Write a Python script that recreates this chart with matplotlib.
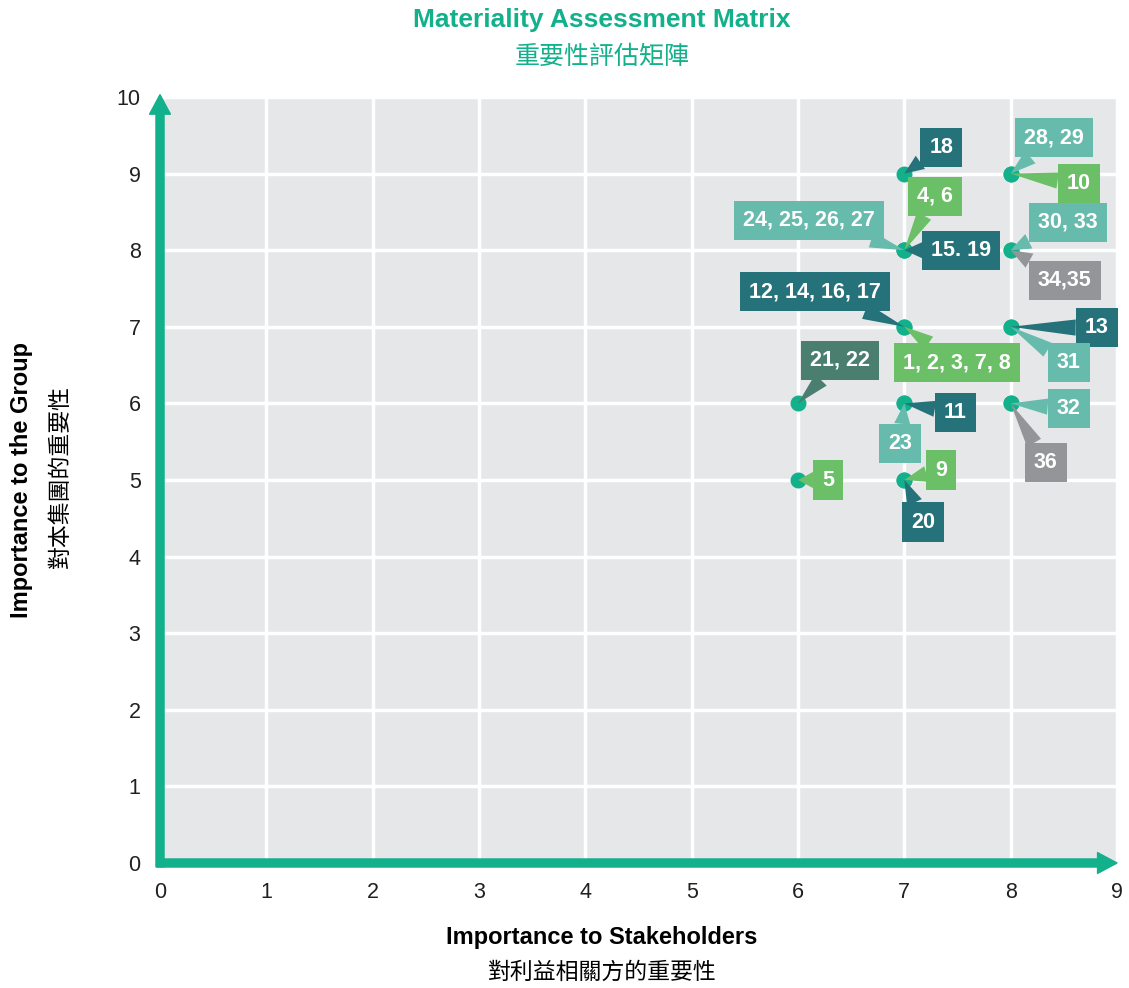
import matplotlib.pyplot as plt

# points: (stakeholders, group) and the issue numbers shown in each callout
xs = [7, 8, 8, 7, 7, 7, 8, 8, 7, 7, 8, 8, 6, 7, 7, 8, 8, 6, 7, 7]
ys = [9, 9, 9, 8, 8, 8, 8, 8, 7, 7, 7, 7, 6, 6, 6, 6, 6, 5, 5, 5]
labels = ["18", "28, 29", "10", "4, 6", "24, 25, 26, 27", "15. 19", "30, 33", "34,35",
          "12, 14, 16, 17", "1, 2, 3, 7, 8", "13", "31", "21, 22", "11", "23", "32", "36",
          "5", "9", "20"]
groups = ["dark", "light", "green", "green", "light", "dark", "light", "gray",
          "dark", "green", "dark", "light", "olive", "dark", "light", "light", "gray",
          "green", "green", "dark"]

# callout offsets in pixels from the point (layout only)
offsets = [(37, 26), (43, 36), (68, -10), (31, 54), (-95, 30), (57, 0), (57, 28), (54, -30),
           (-89, 35), (53, -36), (86, -1), (58, -36), (42, 43), (51, -9), (-4, -40),
           (58, -5), (35, -59), (30, 0), (37, 10), (19, -42)]

colors = {"dark": "#25727b", "light": "#67bbad", "green": "#6bbf66",
          "gray": "#939598", "olive": "#4a7e6f"}
teal = "#12b08b"
latin = ["Liberation Sans", "Noto Sans CJK TC"]
cjk = ["Noto Sans CJK TC", "DejaVu Sans"]

fig = plt.figure(figsize=(11.29, 9.88), dpi=100)
ax = fig.add_axes([160 / 1129, 1 - 863 / 988, 957 / 1129, 766 / 988])
ax.set_facecolor("#e6e7e9")
ax.set_xlim(0, 9)
ax.set_ylim(0, 10)
ax.set_xticks(range(0, 10))
ax.set_yticks(range(0, 11))
ax.grid(color="white", lw=2.5)
ax.set_axisbelow(True)
for s in ax.spines.values():
    s.set_visible(False)
ax.tick_params(length=0, labelsize=15.5, labelcolor="#231f20", pad=14)
for t in ax.get_xticklabels() + ax.get_yticklabels():
    t.set_family(latin)

# axis arrows
arrow = dict(width=5.8, headwidth=15, headlength=14, color=teal, shrink=0)
ax.annotate("", xy=(0, 10.03), xytext=(0, -0.05), arrowprops=arrow, annotation_clip=False)
ax.annotate("", xy=(9, 0), xytext=(-0.03, 0), arrowprops=arrow, annotation_clip=False)

ax.scatter(xs, ys, s=110, color=teal, zorder=3, clip_on=False)

for x, y, lab, g, (dx, dy) in zip(xs, ys, labels, groups, offsets):
    c = colors[g]
    ax.annotate(lab, xy=(x, y), xytext=(dx, dy), textcoords="offset pixels",
                ha="center", va="center", color="white", fontsize=15.5, fontweight="bold",
                family=latin, zorder=5, annotation_clip=False,
                bbox=dict(boxstyle="square,pad=0.42", fc=c, ec="none"),
                arrowprops=dict(arrowstyle="wedge,tail_width=0.75", color=c,
                                shrinkA=0, shrinkB=0, lw=0))

fig.text(602 / 1129, 1 - 20 / 988, "Materiality Assessment Matrix", ha="center", va="center",
         fontsize=19, fontweight="bold", color=teal, family=latin)
fig.text(602 / 1129, 1 - 57 / 988, "重要性評估矩陣", ha="center", va="center",
         fontsize=18, color=teal, family=cjk)
fig.text(602 / 1129, 1 - 937 / 988, "Importance to Stakeholders", ha="center", va="center",
         fontsize=17, fontweight="bold", color="black", family=latin)
fig.text(602 / 1129, 1 - 972 / 988, "對利益相關方的重要性", ha="center", va="center",
         fontsize=16.5, color="black", family=cjk)
fig.text(22 / 1129, 1 - 480 / 988, "Importance to the Group", ha="center", va="center",
         rotation=90, fontsize=17, fontweight="bold", color="black", family=latin)
fig.text(60 / 1129, 1 - 476 / 988, "對本集團的重要性", ha="center", va="center",
         rotation=90, fontsize=16.5, color="black", family=cjk)

fig.savefig("out.png", dpi=100)
